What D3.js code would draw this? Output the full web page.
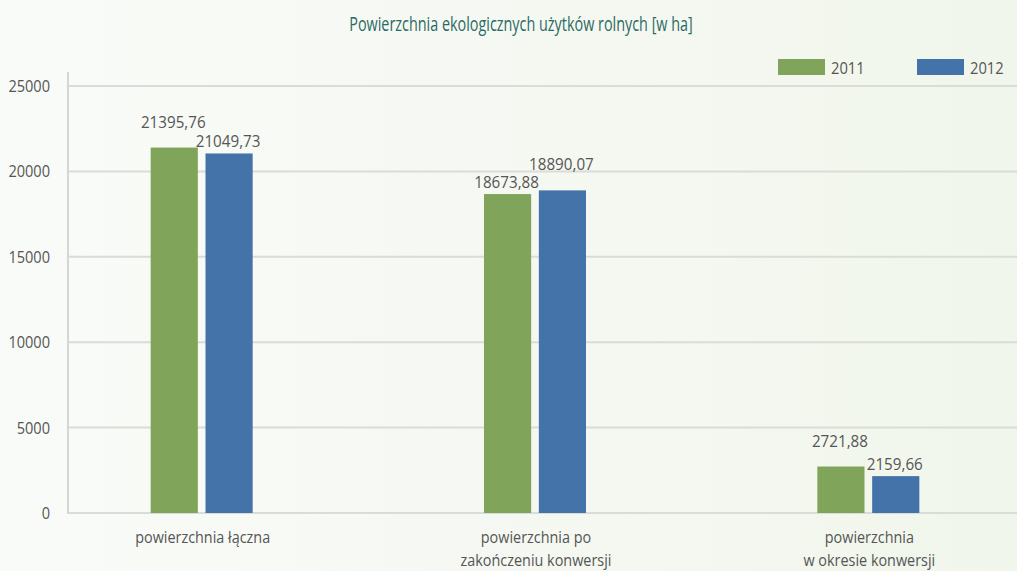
<!DOCTYPE html>
<html>
<head>
<meta charset="utf-8">
<script src="https://cdn.jsdelivr.net/npm/d3@7"></script>
<style>
  body { margin: 0; background: #f7faf5; }
  text { font-family: "Open Sans", sans-serif; }
</style>
</head>
<body>
<div id="chart"></div>
<script>
var width = 1017, height = 571;

var categories = [["powierzchnia łączna"], ["powierzchnia po", "zakończeniu konwersji"], ["powierzchnia", "w okresie konwersji"]];
var years = ["2011", "2012"];
var values2011 = [21395.76, 18673.88, 2721.88];
var values2012 = [21049.73, 18890.07, 2159.66];
var labels2011 = ["21395,76", "18673,88", "2721,88"];
var labels2012 = ["21049,73", "18890,07", "2159,66"];
var yTicks = [0, 5000, 10000, 15000, 20000, 25000];
var colors = ["#80a55a", "#4473a9"];

// narrow the wide fallback font a bit to look like the condensed original
function squeeze(x, y, s) { return "translate(" + x + "," + y + ") scale(" + s + ",1)"; }

var svg = d3.select("#chart")
    .append("svg")
      .attr("width", width)
      .attr("height", height);

var grad = svg.append("defs").append("linearGradient")
    .attr("id", "bg").attr("x1", "0").attr("x2", "1").attr("y1", "0").attr("y2", "0");
grad.append("stop").attr("offset", "0").attr("stop-color", "#f9fbf8");
grad.append("stop").attr("offset", "1").attr("stop-color", "#f1f6ec");
svg.append("rect").attr("width", width).attr("height", height).attr("fill", "url(#bg)");

var y = d3.scaleLinear().domain([0, 25000]).range([513, 86]);

var x0 = d3.scaleBand()
    .domain(d3.range(categories.length))
    .range([35, 1035]);

var x1 = d3.scaleBand()
    .domain(years)
    .range([-51, 51])
    .paddingInner(0.14);

// title
svg.append("text")
    .attr("transform", squeeze(521, 31, 0.72))
    .attr("text-anchor", "middle")
    .attr("fill", "#2b6a63")
    .style("font-size", "20px")
    .text("Powierzchnia ekologicznych użytków rolnych [w ha]");

// grid
svg.append("g").selectAll("line")
    .data(yTicks)
  .enter().append("line")
    .attr("x1", 68).attr("x2", width)
    .attr("y1", function(d) { return y(d); })
    .attr("y2", function(d) { return y(d); })
    .attr("stroke", "#d9dcd8")
    .attr("stroke-width", 2);

svg.append("line")
    .attr("x1", 68).attr("x2", 68)
    .attr("y1", 72).attr("y2", 514)
    .attr("stroke", "#d4d7d3")
    .attr("stroke-width", 2);

svg.append("g").selectAll("text")
    .data(yTicks)
  .enter().append("text")
    .attr("transform", function(d) { return squeeze(50, y(d) + 6, 0.91); })
    .attr("text-anchor", "end")
    .attr("fill", "#555")
    .style("font-size", "16px")
    .text(function(d) { return d; });

// bars
var rows = categories.map(function(c, i) {
  return [
    {i: i, year: "2011", v: values2011[i], label: labels2011[i], higher: values2011[i] >= values2012[i]},
    {i: i, year: "2012", v: values2012[i], label: labels2012[i], higher: values2012[i] > values2011[i]}
  ];
});
var bars = [].concat.apply([], rows);

function bx(d) { return x0(d.i) + x0.bandwidth() / 2 + x1(d.year); }

svg.append("g").selectAll("rect")
    .data(bars)
  .enter().append("rect")
    .attr("x", bx)
    .attr("y", function(d) { return y(d.v); })
    .attr("width", x1.bandwidth())
    .attr("height", function(d) { return y(0) - y(d.v); })
    .attr("fill", function(d) { return d.year === "2011" ? colors[0] : colors[1]; });

svg.append("g").selectAll("text")
    .data(bars)
  .enter().append("text")
    .attr("transform", function(d) {
      return squeeze(bx(d) + x1.bandwidth() / 2 - 1, y(d.v) - (d.higher ? 20 : 6), 0.95);
    })
    .attr("text-anchor", "middle")
    .attr("fill", "#555")
    .style("font-size", "16px")
    .text(function(d) { return d.label; });

// category labels
var cat = svg.append("g").selectAll("text")
    .data(categories)
  .enter().append("text")
    .attr("transform", function(d, i) { return squeeze(x0(i) + x0.bandwidth() / 2 + 1, 543, 0.9); })
    .attr("text-anchor", "middle")
    .attr("fill", "#555")
    .style("font-size", "16px");
cat.selectAll("tspan")
    .data(function(d) { return d; })
  .enter().append("tspan")
    .attr("x", 0)
    .attr("y", function(d, j) { return j * 23; })
    .text(function(d) { return d; });

// legend
var leg = svg.append("g").selectAll("g")
    .data(years)
  .enter().append("g")
    .attr("transform", function(d, i) { return "translate(" + (778 + i * 139) + ",59)"; });
leg.append("rect")
    .attr("width", 47).attr("height", 16)
    .attr("fill", function(d, i) { return colors[i]; });
leg.append("text")
    .attr("transform", squeeze(53, 15, 0.92))
    .attr("fill", "#555")
    .style("font-size", "16px")
    .text(function(d) { return d; });
</script>
</body>
</html>
